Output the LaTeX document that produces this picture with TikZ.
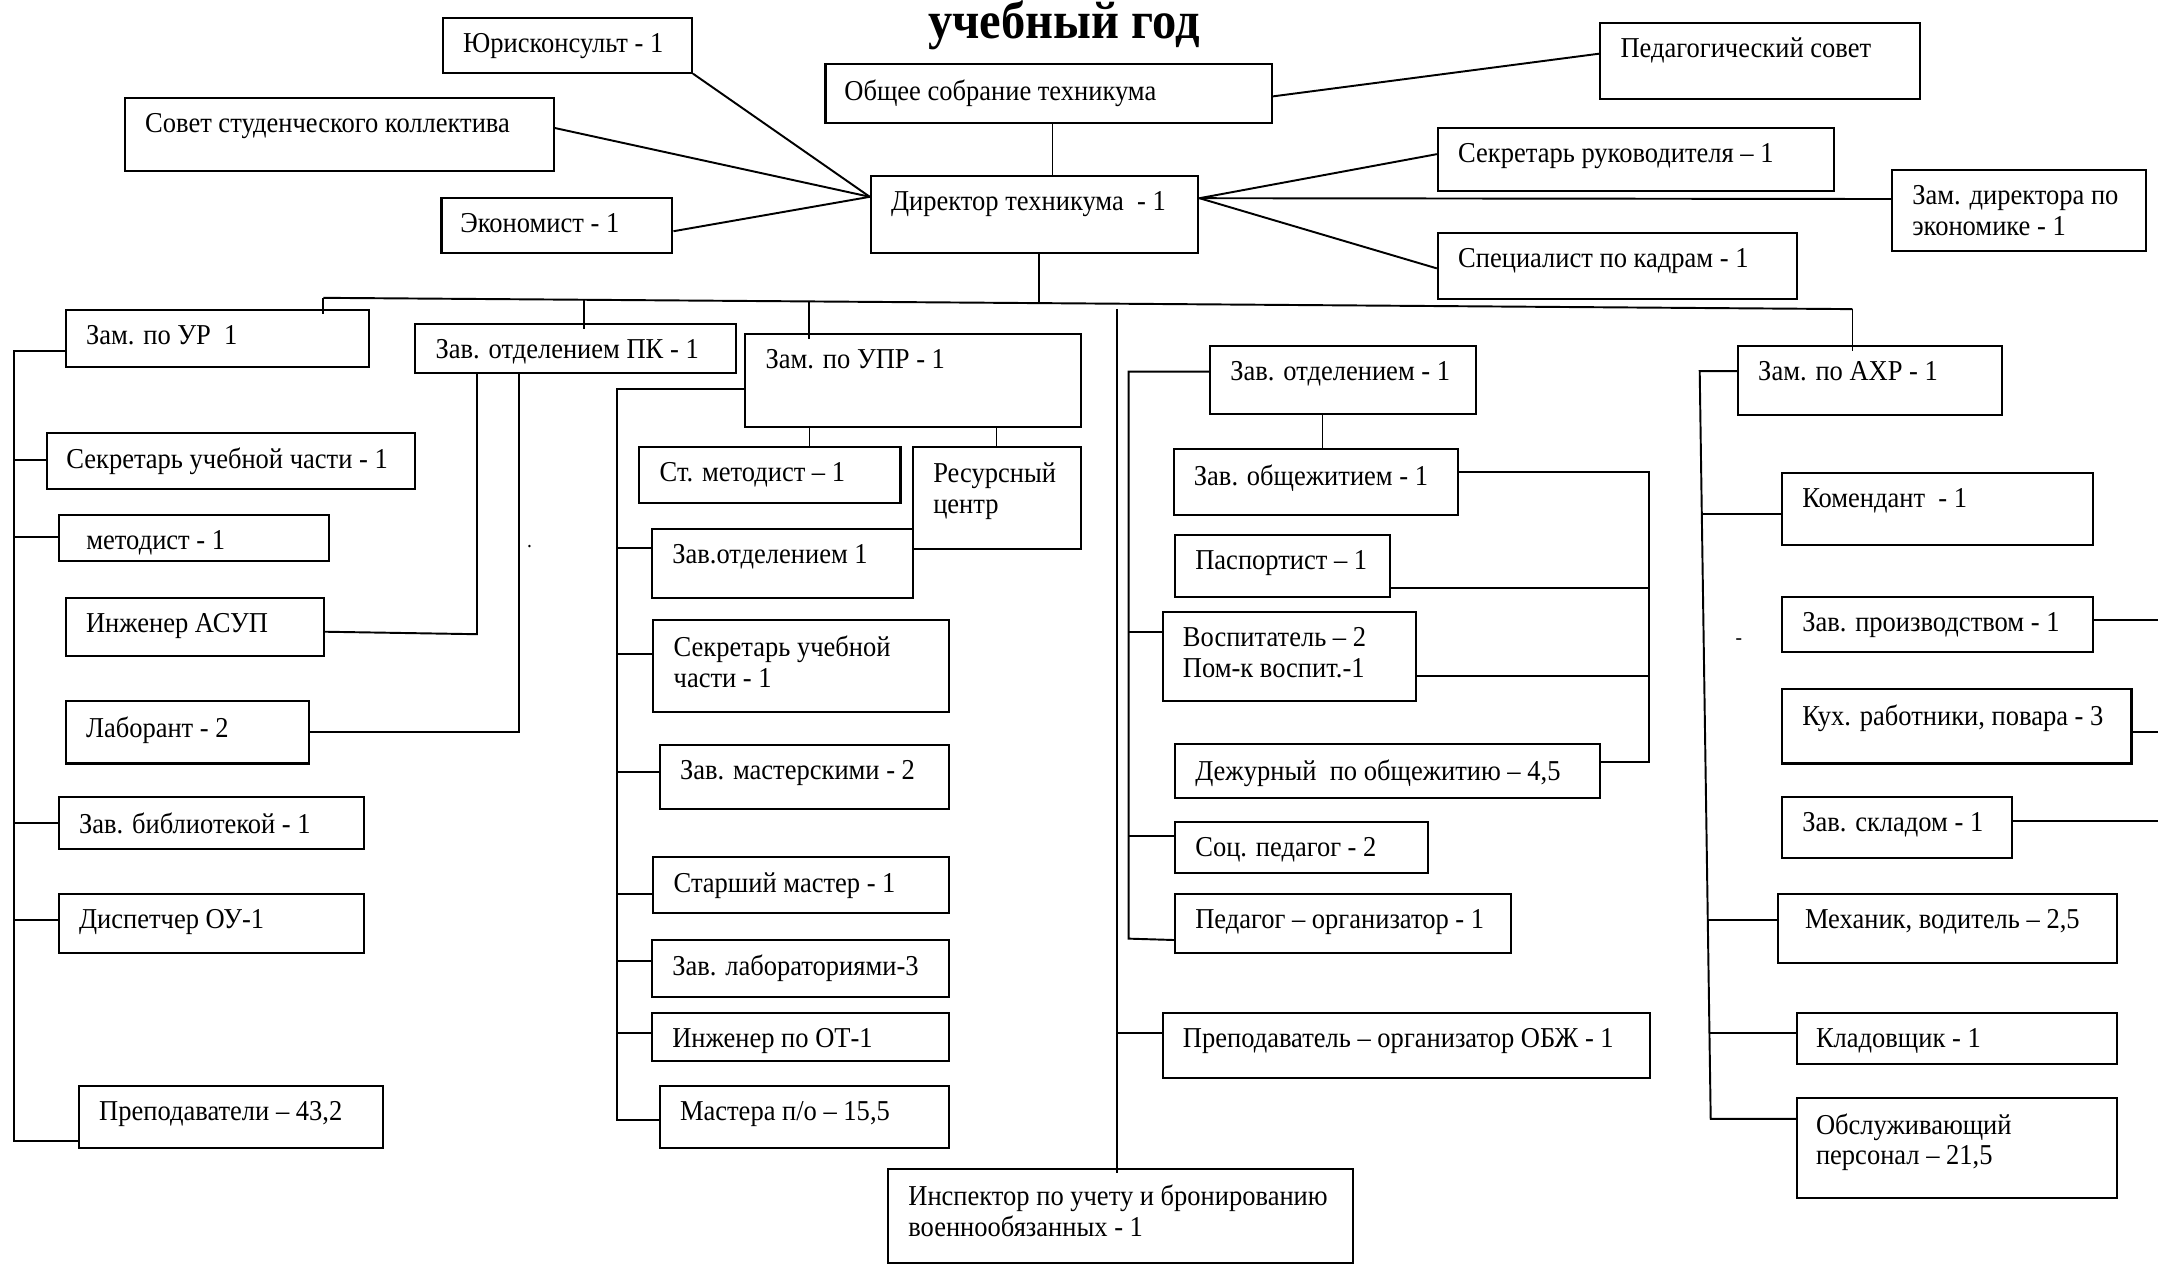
\documentclass[tikz,border=0pt]{standalone}
\usepackage{fontspec}
\setmainfont{Liberation Serif}[FakeStretch=0.92]
\usepackage{tikz}
\newcommand{\unitpx}{0.013763cm}

\begin{document}
\begin{tikzpicture}[x=\unitpx,y=-\unitpx,
	box/.style={draw,line width=0.6pt,anchor=north west,inner sep=0pt},
	lbl/.style={anchor=north west,inner sep=0pt,align=left,font=\fontsize{8.2}{8.8}\selectfont},
	conn/.style={line width=0.55pt},
	fine/.style={line width=0.35pt},
	drop/.style={shorten >=-0.055cm}]
\useasboundingbox (0,0) rectangle (1568,918);

% title
\node[anchor=base,font=\fontsize{15}{17}\selectfont\bfseries] (title) at (773,28) {учебный год};

% draw boxes
\foreach \nm/\xa/\ya/\xb/\yb/\dx/\txt in {
	jur/321/12.6/502/52/15/{Юрисконсульт - 1},
	sovet/90/70.7/401.6/123.5/15/{Совет студенческого коллектива},
	econ/320/143.4/487.8/183.3/14/{Экономист - 1},
	obsch/599/46/923.5/88.4/14/{Общее собрание техникума},
	pedsov/1162/15.7/1394/71/15/{Педагогический совет},
	dir/632/127/870/183.3/15/{Директор техникума\ \ - 1},
	secr/1044/92/1332/138/15/{Секретарь руководителя – 1},
	zamec/1374/122.8/1558.6/181.6/15/{Зам. директора по\\экономике - 1},
	kadr/1044/168.3/1305/216.2/15/{Специалист по кадрам - 1},
	ur/47/224.5/267.6/266/15/{Зам. по УР\ \ 1},
	pk/301/234.8/533.7/270/15/{Зав. отделением ПК - 1},
	upr/540.8/242/785/309.5/15/{Зам. по УПР - 1},
	sec/33.7/313.7/301/354.6/14/{Секретарь учебной части - 1},
	met/42.3/373.5/238.6/407/20/{методист - 1},
	asup/47/433.6/234.5/476/15/{Инженер АСУП},
	labor/47/508.6/224/554/15/{Лаборант - 2},
	lib/42/578.4/263.5/616/15/{Зав. библиотекой - 1},
	disp/42/649/263.5/691.7/15/{Диспетчер ОУ-1},
	prep/56.6/788/277.8/833.5/15/{Преподаватели – 43,2},
	stmet/463.8/324/653.5/365/15/{Ст. методист – 1},
	res/662.6/324/785/398/15/{Ресурсный\\центр},
	zo/473/383.6/662.6/433.6/15/{Зав.отделением 1},
	sek2/474/449.8/689/516.6/15/{Секретарь учебной\\части - 1},
	mastsk/478.6/540.6/689/587/15/{Зав. мастерскими - 2},
	stm/474/622/689/662.6/15/{Старший мастер - 1},
	lab/473/682/689/723.6/15/{Зав. лабораториями-3},
	ot/473/735.3/689/770/15/{Инженер по ОТ-1},
	mast/478.6/788/689/833.5/15/{Мастера п/о – 15,5},
	dept/878.5/250.7/1071.7/300/15/{Зав. отделением - 1},
	obsh/852/325.6/1058.6/373.5/15/{Зав. общежитием - 1},
	pasp/853/388/1009/433/15/{Паспортист – 1},
	vosp/844/444/1028/508.6/15/{Воспитатель – 2\\Пом-к воспит.-1},
	dezh/853/540/1162/579/15/{Дежурный\ \ по общежитию – 4,5},
	soc/853/596.5/1037/633.6/15/{Соц. педагог - 2},
	pedorg/853/649/1097/691.7/15/{Педагог – организатор - 1},
	obzh/844/735/1198/782.5/15/{Преподаватель – организатор ОБЖ - 1},
	insp/644.5/848.6/982/917/15/{Инспектор по учету и бронированию\\военнообязанных - 1},
	ahr/1262/250.7/1454/300.8/15/{Зам. по АХР - 1},
	kom/1294/343/1520/395/15/{Комендант\ \ - 1},
	prod/1294/433/1520/473/15/{Зав. производством - 1},
	kuh/1294/500/1548/554/15/{Кух. работники, повара - 3},
	sklad/1294/578/1461/622.6/15/{Зав. складом - 1},
	meh/1291/649/1537.5/699/20/{Механик, водитель – 2,5},
	klad/1305/735/1537.5/772/14/{Кладовщик - 1},
	obsl/1305/797/1537.5/870/14/{Обслуживающий\\персонал – 21,5}}
{
	\node[box,minimum width={(\xb-\xa)*\unitpx},minimum height={(\yb-\ya)*\unitpx}] (\nm) at (\xa,\ya) {};
	\node[lbl] (\nm-t) at ([shift={(\dx,11.5)}]\nm.north west) {\txt};
}

% stray marks
\node[inner sep=0pt,font=\fontsize{6}{6}\selectfont] (stray1) at (384.8,397) {.};
\node[inner sep=0pt,font=\fontsize{6}{6}\selectfont] (stray2) at (1263.5,466) {-};

% director and the boxes round it
\coordinate (dirL) at ([shift={(0,16)}]dir.north west);
\coordinate (dirR) at ([shift={(0,17)}]dir.north east);
\draw[conn] (jur.south east) -- (dirL);
\draw[conn] (sovet.east |- 0,93) -- (dirL);
\draw[conn] (econ.east |- 0,168) -- (dirL);
\draw[fine] (765,0 |- obsch.south) -- (765,0 |- dir.north);
\draw[conn] (obsch.east |- 0,70) -- (pedsov.west |- 0,39);
\draw[conn] (dirR) -- (secr.west |- 0,112);
\draw[conn] (dirR) -- (zamec.west |- 0,144.6);
\draw[conn] (dirR) -- (kadr.west |- 0,195);

% draw horizontal bus
\coordinate (busL) at (235,216.4);
\coordinate (busR) at (1346,224.6);
\draw[fine] (755,0 |- dir.south) -- (755,220.2);
\draw[conn] (busL) -- (busR);
\draw[conn,drop] (busL) -- (ur.north -| busL);
\draw[conn,drop] (424,217.8) -- (pk.north -| 424,0);
\draw[conn,drop] (588,219) -- (upr.north -| 588,0);
\draw[conn,drop] (busR) -- (ahr.north -| busR);
\draw[conn,drop] (811.6,224.5) -- (insp.north -| 811.6,0);

% left column
\draw[conn] (ur.west |- 0,255) -- (10,255) -- (10,829) -- (prep.west |- 0,829);
\foreach \b/\y in {sec/334,met/390,lib/598,disp/668.5}
{
	\draw[conn] (10,\y) -- (\b.west |- 0,\y);
}
\draw[conn] (346.6,0 |- pk.south) -- (346.6,460.8) -- (asup.east |- 0,459);
\draw[conn] (377,0 |- pk.south) -- (377,531.6) -- (labor.east |- 0,531.6);

% UPR column
\draw[fine] (588,0 |- upr.south) -- (588,0 |- stmet.north);
\draw[fine] (724,0 |- upr.south) -- (724,0 |- res.north);
\draw[conn] (upr.west |- 0,282.7) -- (448.5,282.7) -- (448.5,813.5) -- (mast.west |- 0,813.5);
\foreach \b/\y in {zo/398,sek2/475,mastsk/561,stm/649.6,lab/698.3,ot/750.6}
{
	\draw[conn] (448.5,\y) -- (\b.west |- 0,\y);
}

% centre column
\draw[conn] (dept.west |- 0,270) -- (820,270) -- (820,682) -- (pedorg.west |- 0,683);
\foreach \b/\y in {vosp/459,soc/607.5}
{
	\draw[conn] (820,\y) -- (\b.west |- 0,\y);
}
\draw[conn] (811.6,750.6) -- (obzh.west |- 0,750.6);
\draw[fine] (961,0 |- dept.south) -- (961,0 |- obsh.north);
\draw[conn] (obsh.east |- 0,343) -- (1198,343) -- (1198,553.6) -- (dezh.east |- 0,553.6);
\foreach \b/\y in {pasp/427,vosp/491}
{
	\draw[conn] (1198,\y) -- (\b.east |- 0,\y);
}

% AHR column
\coordinate (rim) at (1568,0);
\draw[conn] (ahr.west |- 0,269.6) -- (1235,269.6) -- (1243,813) -- (obsl.west |- 0,813);
\foreach \b/\y/\x in {kom/373.5/1236.5,meh/668.5/1240.9,klad/750.6/1242.1}
{
	\draw[conn] (\x,\y) -- (\b.west |- 0,\y);
}
\foreach \b/\y in {prod/450.5,kuh/532,sklad/596.5}
{
	\draw[conn] (\b.east |- 0,\y) -- (rim |- 0,\y);
}

\end{tikzpicture}
\end{document}
